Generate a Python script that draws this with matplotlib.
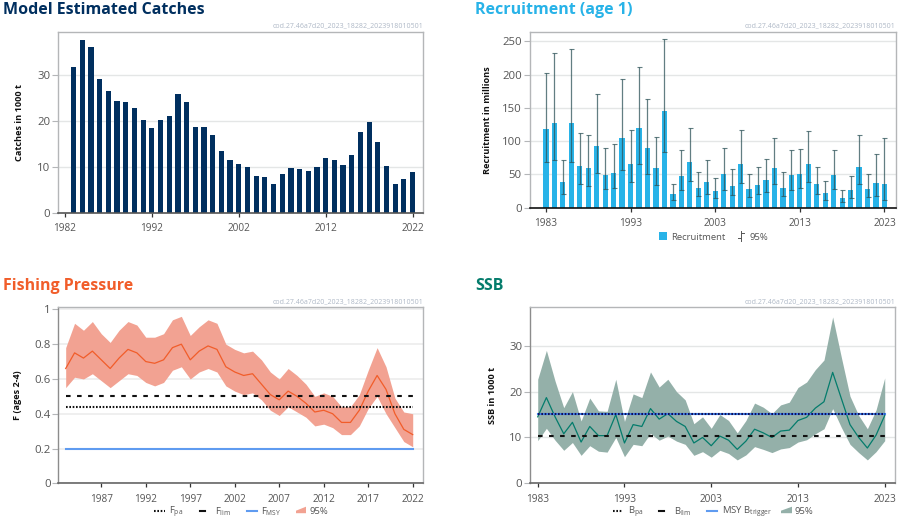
#!/usr/bin/env python3
import matplotlib
matplotlib.use("Agg")
import matplotlib.pyplot as plt
from matplotlib.lines import Line2D
from matplotlib.patches import Polygon, Rectangle

plt.rcParams["font.family"] = ["Open Sans", "DejaVu Sans"]
plt.rcParams["mathtext.default"] = "regular"

W, H = 913, 523

NAVY = "#002f5f"
BLUE = "#28b3e8"
ORANGE = "#f15d2a"
GREEN = "#047c6c"
F_FILL = "#f2a292"
SSB_FILL = "#94b0a9"
LIMIT_BLUE = "#5f9bf0"
SOURCE = "cod.27.46a7d20_2023_18282_2023918010501"
DOTTED = (0, (0.8, 0.8))
DASHED = (0, (2.2, 3.1))

catch_years = list(range(1983, 2023))
catches = [31.7, 37.5, 36.0, 29.2, 26.5, 24.3, 24.2, 22.7, 20.1, 18.5,
           20.3, 21.1, 25.8, 24.2, 18.7, 18.7, 17.0, 13.4, 11.4, 10.6,
           10.0, 8.0, 7.9, 6.4, 8.4, 9.8, 9.6, 9.2, 10.0, 11.9,
           11.6, 10.5, 12.5, 17.5, 19.8, 15.4, 10.2, 6.2, 7.3, 8.9]

rec_years = list(range(1983, 2024))
recruitment = [118, 127, 39, 127, 63, 59, 93, 49, 52, 105,
               66, 119, 89, 60, 145, 20, 48, 69, 30, 39,
               25, 50, 33, 66, 28, 34, 41, 60, 30, 49,
               51, 66, 36, 22, 49, 15, 27, 61, 28, 37, 35]
rec_low = [68, 71, 20, 68, 35, 32, 52, 28, 29, 57,
           38, 66, 50, 34, 83, 11, 27, 40, 17, 21,
           14, 27, 19, 37, 16, 20, 23, 35, 17, 27,
           29, 38, 21, 12, 28, 8, 15, 35, 16, 17, 12]
rec_high = [202, 233, 72, 238, 112, 109, 170, 89, 96, 193,
            116, 212, 163, 106, 253, 35, 86, 120, 53, 72,
            44, 90, 58, 116, 50, 61, 73, 104, 53, 87,
            88, 115, 61, 40, 86, 26, 47, 109, 50, 81, 105]

f_years = list(range(1983, 2023))
f_mean = [.66, .75, .72, .76, .71, .66, .72, .77, .75, .70,
          .69, .71, .78, .80, .71, .76, .79, .77, .67, .64,
          .62, .63, .57, .51, .48, .53, .50, .46, .41, .42,
          .40, .35, .35, .42, .53, .62, .54, .40, .31, .28]
f_high = [.78, .92, .88, .93, .86, .81, .88, .93, .91, .84,
          .84, .86, .94, .96, .85, .90, .94, .92, .80, .77,
          .75, .76, .71, .64, .60, .66, .62, .57, .50, .52,
          .50, .44, .44, .51, .65, .78, .67, .49, .41, .40]
f_low = [.55, .61, .60, .63, .59, .55, .59, .63, .62, .58,
         .56, .58, .65, .67, .60, .64, .66, .64, .56, .53,
         .51, .52, .48, .42, .39, .44, .41, .38, .33, .34,
         .32, .28, .28, .33, .43, .50, .40, .32, .24, .21]
f_pa = 0.44
f_lim = 0.50
f_msy = 0.195

ssb_years = list(range(1983, 2024))
ssb = [14.5, 18.7, 14.5, 10.8, 13.3, 9.0, 12.4, 10.4, 10.4, 15.0,
       8.8, 12.8, 12.4, 16.3, 14.0, 15.2, 13.5, 12.4, 8.8, 10.0,
       8.2, 10.3, 9.4, 7.4, 9.2, 11.8, 11.0, 10.0, 11.4, 11.6,
       13.7, 14.4, 16.4, 17.8, 24.2, 18.5, 12.8, 10.0, 7.7, 10.5, 14.8]
ssb_high = [22.7, 29.0, 22.3, 16.5, 20.0, 13.6, 18.6, 15.8, 15.7, 22.7,
            13.5, 19.5, 18.7, 24.3, 21.0, 22.7, 20.0, 18.2, 13.0, 14.5,
            12.0, 15.0, 13.7, 11.0, 13.7, 17.5, 16.6, 15.2, 17.1, 17.7,
            20.9, 22.1, 24.8, 26.9, 36.3, 27.5, 19.0, 14.8, 11.9, 16.0, 23.0]
ssb_low = [9.3, 12.0, 9.4, 7.2, 8.9, 6.1, 8.2, 7.0, 6.8, 10.0,
           5.8, 8.5, 8.2, 10.9, 9.4, 10.3, 9.2, 8.5, 6.1, 6.9,
           5.7, 7.2, 6.5, 5.1, 6.2, 8.0, 7.4, 6.7, 7.5, 7.8,
           9.0, 9.5, 10.8, 11.9, 16.3, 12.2, 8.5, 6.7, 5.1, 6.9, 9.3]
b_pa = 15.1
b_lim = 10.4
b_trigger = 15.1


def fx(px):
    return px / W


def fy(px):
    return 1 - px / H


def make_axes(fig, left, top, right, bottom, xlim, ylim, xticks, yticks, ylabel, ylabel_x):
    ax = fig.add_axes([fx(left), fy(bottom), (right - left) / W, (bottom - top) / H])
    ax.set_xlim(*xlim)
    ax.set_ylim(*ylim)
    ax.set_xticks(xticks)
    ax.set_yticks(yticks)
    ax.set_yticklabels([f"{t:g}" for t in yticks])
    ax.set_axisbelow(True)
    ax.grid(True, axis="y", color="#e4e6e6", linewidth=1.0)
    for side in ["left", "top", "right"]:
        ax.spines[side].set_color("#b4b6b8")
        ax.spines[side].set_linewidth(1.0)
    ax.spines["bottom"].set_color("#555555")
    ax.spines["bottom"].set_linewidth(1.2)
    ax.tick_params(axis="x", length=3, width=0.9, color="#333333", labelsize=7.2,
                   labelcolor="#555555", pad=4.5)
    ax.tick_params(axis="y", length=4, width=0.8, color="#b4b6b8", labelsize=8.2,
                   labelcolor="#555555", pad=1.5)
    fig.text(fx(ylabel_x), fy((top + bottom) / 2), ylabel, rotation=90, ha="center",
             va="center", fontsize=6.6, fontweight="bold", color="#111111")
    fig.text(fx(right), fy(top - 6), SOURCE, ha="right", va="center",
             fontsize=5.0, color="#aeb8c6")
    return ax


def add_title(fig, x, y, text, color):
    fig.text(fx(x), fy(y), text, fontsize=11.5, fontweight="bold", color=color, va="center")


def legend_line(fig, x0, x1, y0, y1, color, linestyle="-", width=1.5):
    fig.add_artist(Line2D([fx(x0), fx(x1)], [fy(y0), fy(y1)], color=color,
                          linestyle=linestyle, linewidth=width))


def legend_wedge(fig, x0, x1, y, color):
    pts = [(x0, y + 2.5), (x1, y + 2.5), (x1, y - 4), (x0, y)]
    fig.add_artist(Polygon([(fx(a), fy(b)) for a, b in pts], closed=True,
                           facecolor=color, edgecolor="none",
                           transform=fig.transFigure))


def legend_text(fig, x, y, text):
    fig.text(fx(x), fy(y + 3.3), text, fontsize=6.8, color="#555555", va="baseline")


def catches_panel(fig):
    ax = make_axes(fig, 58, 32, 423, 213, (1981.2, 2023.2), (0, 39.3),
                   [1982, 1992, 2002, 2012, 2022], [0, 10, 20, 30],
                   "Catches in 1000 t", 20)
    ax.bar(catch_years, catches, width=0.6, color=NAVY, zorder=2)
    add_title(fig, 3, 10, "Model Estimated Catches", NAVY)


def recruitment_panel(fig):
    ax = make_axes(fig, 529.5, 32, 895.5, 207.5, (1981.06, 2024.3), (0, 264),
                   [1983, 1993, 2003, 2013, 2023], [0, 50, 100, 150, 200, 250],
                   "Recruitment in millions", 487)
    ax.spines["bottom"].set_color("#111111")
    ax.bar(rec_years, recruitment, width=0.62, color=BLUE, zorder=2)
    err = [[r - l for r, l in zip(recruitment, rec_low)],
           [h - r for r, h in zip(recruitment, rec_high)]]
    ax.errorbar(rec_years, recruitment, yerr=err, fmt="none", ecolor="#2e5358", elinewidth=0.9,
                capsize=1.8, capthick=0.8, alpha=0.75, zorder=3)
    add_title(fig, 475, 10, "Recruitment (age 1)", BLUE)
    fig.add_artist(Rectangle((fx(659), fy(240)), 8 / W, 8 / H, facecolor=BLUE,
                             edgecolor="none", transform=fig.transFigure))
    legend_text(fig, 671, 236.7, "Recruitment")
    legend_line(fig, 741, 741, 231, 241, "#555555", width=0.7)
    legend_line(fig, 741, 744, 233, 233, "#555555", width=0.7)
    legend_line(fig, 738, 741, 238, 238, "#555555", width=0.7)
    legend_text(fig, 749, 236.7, "95%")


def pressure_panel(fig):
    ax = make_axes(fig, 58.3, 307.3, 423.3, 483.3, (1982.17, 2023.19), (0, 1.012),
                   list(range(1987, 2023, 5)), [0, 0.2, 0.4, 0.6, 0.8, 1],
                   "F (ages 2-4)", 18)
    ax.grid(True, axis="y", color="#ececec", linewidth=1.2)
    ax.spines["bottom"].set_color("#666666")
    ax.spines["left"].set_color("#8c8c8c")
    ax.fill_between(f_years, f_low, f_high, color=F_FILL, linewidth=0, zorder=2)
    ax.plot(f_years, f_mean, color=ORANGE, linewidth=0.9, zorder=3)
    ends = [f_years[0], f_years[-1]]
    ax.plot(ends, [f_pa, f_pa], color="#111111", linestyle=DOTTED, linewidth=1.5, zorder=4)
    ax.plot(ends, [f_lim, f_lim], color="#111111", linestyle=DASHED, linewidth=1.5, zorder=4)
    ax.plot(ends, [f_msy, f_msy], color=LIMIT_BLUE, linewidth=1.5, zorder=4)
    add_title(fig, 3, 286, "Fishing Pressure", ORANGE)
    y = 510.7
    legend_line(fig, 154, 165, y, y, "#111111", DOTTED)
    legend_text(fig, 168.5, y, r"F$_{pa}$")
    legend_line(fig, 200, 205, y, y, "#111111")
    legend_text(fig, 215, y, r"F$_{lim}$")
    legend_line(fig, 247, 257, y, y, LIMIT_BLUE)
    legend_text(fig, 261, y, r"F$_{MSY}$")
    legend_wedge(fig, 296, 306, y, F_FILL)
    legend_text(fig, 309, y, "95%")


def ssb_panel(fig):
    ax = make_axes(fig, 530, 307.3, 895.3, 483.3, (1982.11, 2024.22), (0, 38.4),
                   [1983, 1993, 2003, 2013, 2023], [0, 10, 20, 30],
                   "SSB in 1000 t", 492)
    ax.spines["bottom"].set_color("#666666")
    ax.spines["left"].set_color("#8c8c8c")
    ax.fill_between(ssb_years, ssb_low, ssb_high, color=SSB_FILL, linewidth=0, zorder=2)
    ax.plot(ssb_years, ssb, color=GREEN, linewidth=0.9, zorder=3)
    ends = [ssb_years[0], ssb_years[-1]]
    ax.plot(ends, [b_trigger, b_trigger], color="#3f7fe8", linewidth=1.5, zorder=4)
    ax.plot(ends, [b_pa, b_pa], color="#111155", linestyle=DOTTED, linewidth=1.5, zorder=4)
    ax.plot(ends, [b_lim, b_lim], color="#111111", linestyle=DASHED, linewidth=1.5, zorder=4)
    add_title(fig, 475, 286, "SSB", GREEN)
    y = 510.7
    legend_line(fig, 612.7, 623, y, y, "#111111", DOTTED)
    legend_text(fig, 628, y, r"B$_{pa}$")
    legend_line(fig, 659, 664, y, y, "#111111")
    legend_text(fig, 674, y, r"B$_{lim}$")
    legend_line(fig, 707, 717, y, y, LIMIT_BLUE)
    legend_text(fig, 722, y, r"MSY B$_{trigger}$")
    legend_wedge(fig, 781, 792, y, SSB_FILL)
    legend_text(fig, 794, y, "95%")


def main():
    fig = plt.figure(figsize=(W / 100, H / 100), dpi=100, facecolor="white")
    catches_panel(fig)
    recruitment_panel(fig)
    pressure_panel(fig)
    ssb_panel(fig)
    fig.savefig("out.png", dpi=100)
    plt.close(fig)


if __name__ == "__main__":
    main()
